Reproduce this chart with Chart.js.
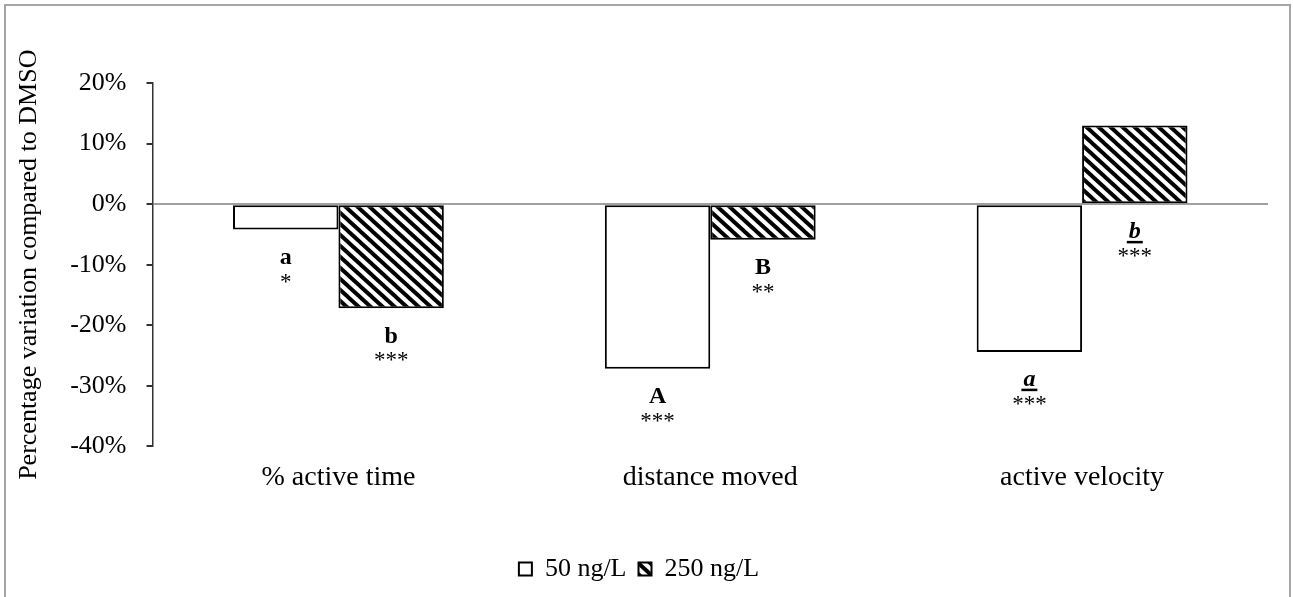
<!DOCTYPE html>
<html>
<head>
<meta charset="utf-8">
<script src="https://cdn.jsdelivr.net/npm/chart.js@4.4.1/dist/chart.umd.min.js"></script>
<style>
  body { margin: 0; background: #fff; }
  #wrap { width: 1293px; height: 597px; position: relative; }
</style>
</head>
<body>
<div id="wrap"><canvas id="behaviour-chart"></canvas></div>
<script>
// values (% variation vs DMSO)
var categories = ['% active time', 'distance moved', 'active velocity']
var low = [-4.2, -27.2, -24.4]     // 50 ng/L
var high = [-17.2, -5.9, 13.0]     // 250 ng/L
var lowLetters = ['a', 'A', 'a']
var lowStars = ['*', '***', '***']
var highLetters = ['b', 'B', 'b']
var highStars = ['***', '**', '***']
var italicLetters = [false, false, true]
var yMin = -40, yMax = 20, yStep = 10

var serif = 'Liberation Serif'

// diagonal hatch like excel "wide downward diagonal"
function hatch() {
  var w = 12, h = 11
  var t = document.createElement('canvas')
  t.width = w; t.height = h
  var g = t.getContext('2d')
  g.fillStyle = '#fff'
  g.fillRect(0, 0, w, h)
  g.strokeStyle = '#000'
  g.lineWidth = 4
  ;[-w, 0, w].forEach(function (dx) {
    g.beginPath()
    g.moveTo(dx - w, -h)
    g.lineTo(dx + 2 * w, 2 * h)
    g.stroke()
  })
  return g.createPattern(t, 'repeat')
}

var frame = {
  id: 'frame',
  beforeDraw: function (chart) {
    var c = chart.ctx
    c.save()
    c.fillStyle = '#fff'
    c.fillRect(0, 0, chart.width, chart.height)
    c.strokeStyle = '#a6a6a6'
    c.lineWidth = 2
    c.strokeRect(5, 5, chart.width - 8, chart.height + 10)
    c.restore()
  }
}

var letters = {
  id: 'letters',
  afterDatasetsDraw: function (chart) {
    var c = chart.ctx, y = chart.scales.y
    var sets = [[low, lowLetters, lowStars], [high, highLetters, highStars]]
    c.save()
    c.fillStyle = '#000'
    c.strokeStyle = '#000'
    c.textAlign = 'center'
    c.textBaseline = 'middle'
    sets.forEach(function (s, i) {
      chart.getDatasetMeta(i).data.forEach(function (bar, j) {
        var base = y.getPixelForValue(Math.min(s[0][j], 0))
        var it = italicLetters[j]
        c.font = (it ? 'italic ' : '') + 'bold 24px "' + serif + '"'
        c.fillText(s[1][j], bar.x, base + 28)
        if (it) {
          var tw = c.measureText(s[1][j]).width
          c.lineWidth = 2.5
          c.beginPath()
          c.moveTo(bar.x - tw / 2 - 2, base + 38)
          c.lineTo(bar.x + tw / 2 + 2, base + 38)
          c.stroke()
        }
        c.font = '23px "' + serif + '"'
        c.fillText(s[2][j], bar.x, base + 53)
      })
    })
    c.restore()
  }
}

var ctx = document.getElementById('behaviour-chart')
new Chart(ctx, {
  type: 'bar',
  data: {
    labels: categories,
    datasets: [
      {
        label: '50 ng/L',
        data: low,
        backgroundColor: '#fff',
        borderColor: '#000',
        borderWidth: 2,
        borderSkipped: false,
      },
      {
        label: '250 ng/L',
        data: high,
        backgroundColor: hatch(),
        borderColor: '#000',
        borderWidth: 2,
        borderSkipped: false,
      },
    ],
  },
  options: {
    responsive: true,
    maintainAspectRatio: false,
    animation: false,
    layout: { padding: { left: 10, right: 25, top: 83, bottom: 5 } },
    datasets: { bar: { barPercentage: 1, categoryPercentage: 0.567 } },
    scales: {
      x: {
        grid: { display: false },
        border: { display: false },
        ticks: { color: '#000', padding: 6, font: { family: serif, size: 28 } },
        afterFit: function (scale) { scale.height += 44 },
      },
      y: {
        min: yMin,
        max: yMax,
        ticks: {
          stepSize: yStep,
          color: '#000',
          padding: 20,
          font: { family: serif, size: 26 },
          callback: function (v) { return v + '%' },
        },
        grid: {
          color: function (c) { return c.tick && c.tick.value === 0 ? '#a0a0a0' : 'rgba(0,0,0,0)' },
          lineWidth: 2,
          tickColor: '#333',
          tickLength: 6,
        },
        border: { display: true, color: '#333', width: 1.5 },
        title: {
          display: true,
          text: 'Percentage variation compared to DMSO',
          color: '#000',
          font: { family: serif, size: 26 },
          padding: { top: 4, bottom: 5 },
        },
      },
    },
    plugins: {
      legend: {
        display: true,
        position: 'bottom',
        labels: {
          color: '#000',
          boxWidth: 13,
          boxHeight: 13,
          padding: 12,
          font: { family: serif, size: 26 },
        },
      },
      tooltip: { enabled: false },
    },
  },
  plugins: [frame, letters],
})
</script>
</body>
</html>
